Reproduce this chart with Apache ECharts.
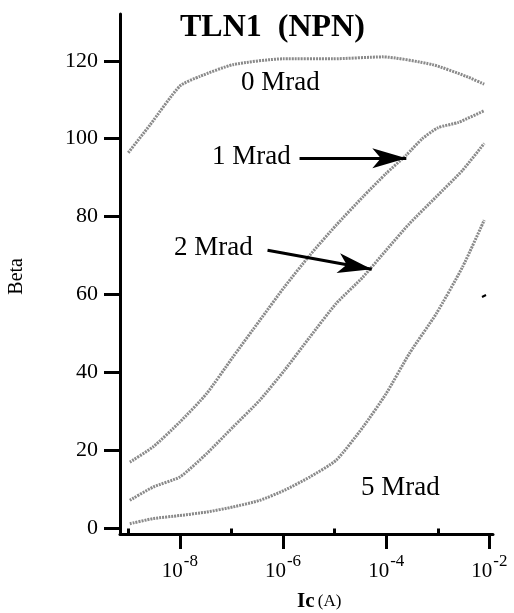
<!DOCTYPE html>
<html>
<head>
<meta charset="UTF-8">
<title>TLN1 (NPN) Beta vs Ic</title>
<script src="https://cdn.jsdelivr.net/npm/echarts@6/dist/echarts.min.js"></script>
<style>
  body { margin: 0; background: #fff; }
  #main { width: 514px; height: 613px; }
</style>
</head>
<body>
<div id="main"></div>
<script type="text/javascript">
// x values are log10(Ic / A)
var logIc0 = [-9.0, -8.58, -8.0, -7.61, -6.97, -6.0, -5.04, -4.07, -3.1, -2.45, -2.1];
var beta0  = [96.4, 103.5, 113.5, 116, 119, 120.5, 120.5, 121, 119, 116, 114];

var logIc1 = [-8.97, -8.52, -8.0, -7.48, -6.97, -6.45, -5.97, -5.48, -4.97, -4.45, -4.0, -3.61, -3.3, -3.0, -2.6, -2.1];
var beta1  = [17.0, 20.9, 27.3, 34.6, 44.0, 53.4, 62.0, 70.1, 77.8, 85.1, 91.1, 95.8, 100.0, 102.8, 104.2, 107.2];

var logIc2 = [-8.97, -8.52, -8.0, -7.48, -6.97, -6.45, -5.97, -5.48, -4.97, -4.45, -4.0, -3.55, -3.03, -2.52, -2.1];
var beta2  = [7.2, 10.6, 13.2, 19.2, 26.0, 32.9, 40.6, 49.1, 57.7, 64.5, 71.4, 78.2, 85.1, 91.9, 98.8];

var logIc5 = [-8.97, -8.52, -8.0, -7.48, -6.97, -6.45, -5.97, -5.48, -4.97, -4.45, -4.0, -3.55, -3.03, -2.52, -2.1];
var beta5  = [1.2, 2.5, 3.3, 4.2, 5.5, 7.2, 9.8, 13.2, 17.5, 26.0, 34.6, 44.9, 55.1, 67.1, 79.1];

var yTicks = [0, 20, 40, 60, 80, 100, 120];
var xMajor = [-8, -6, -4, -2];
var xMinor = [-9, -7, -5, -3];

// arrows from the labels to the curves, in data coords
var arrow1 = [[-5.68, 95], [-3.61, 95]];
var arrow2 = [[-6.30, 71.4], [-4.28, 66.5]];

var serif = '"Liberation Serif", "DejaVu Serif", serif';

function pairs(xs, ys) {
  var out = [];
  for (var i = 0; i < xs.length; i++) out.push([xs[i], ys[i]]);
  return out;
}

function curve(name, xs, ys) {
  return {
    name: name,
    type: 'line',
    data: pairs(xs, ys),
    symbol: 'none',
    smooth: 0.2,
    lineStyle: { color: '#8a8a8a', width: 3, type: [2, 1] },
    silent: true
  };
}

var myChart = echarts.init(document.getElementById('main'));

var series = [
  curve('0 Mrad', logIc0, beta0),
  curve('1 Mrad', logIc1, beta1),
  curve('2 Mrad', logIc2, beta2),
  curve('5 Mrad', logIc5, beta5)
];

// arrows drawn as markLines on the first series
series[0].markLine = {
  silent: true,
  symbol: ['none', 'arrow'],
  symbolSize: [15, 34],
  label: { show: false },
  lineStyle: { color: '#000', width: 3, type: 'solid' },
  data: [
    [{ coord: arrow1[0] }, { coord: arrow1[1] }],
    [{ coord: arrow2[0] }, { coord: arrow2[1] }]
  ]
};

var option = {
  animation: false,
  backgroundColor: '#fff',
  title: {
    text: 'TLN1  (NPN)',
    left: 175,
    top: 7,
    textStyle: { fontFamily: serif, fontWeight: 'bold', fontSize: 32, color: '#000' }
  },
  grid: { left: 120, right: 21, top: 14, bottom: 79 },
  xAxis: [
    {
      type: 'value',
      min: -9.16,
      max: -1.93,
      axisLine: { onZero: false, lineStyle: { color: '#000', width: 3 } },
      axisTick: { customValues: xMajor, length: 15, lineStyle: { width: 3, color: '#000' } },
      splitLine: { show: false },
      axisLabel: {
        customValues: xMajor,
        margin: 15,
        formatter: function (v) { return '{b|10}{s|' + v + '}'; },
        rich: {
          b: { fontFamily: serif, fontSize: 21, color: '#000', padding: [12, 0, 0, 0] },
          s: { fontFamily: serif, fontSize: 17, color: '#000', padding: [0, 0, 8, 1] }
        }
      }
    },
    {
      type: 'value',
      min: -9.16,
      max: -1.93,
      position: 'bottom',
      axisLine: { show: false },
      axisTick: { customValues: xMinor, length: 6, lineStyle: { width: 3, color: '#000' } },
      axisLabel: { show: false },
      splitLine: { show: false }
    }
  ],
  yAxis: {
    type: 'value',
    min: -1.44,
    max: 132,
    axisLine: { onZero: false, lineStyle: { color: '#000', width: 3 } },
    axisTick: { customValues: yTicks, length: 16, lineStyle: { width: 3, color: '#000' } },
    splitLine: { show: false },
    axisLabel: {
      customValues: yTicks,
      margin: 22,
      fontFamily: serif,
      fontSize: 22,
      color: '#000'
    }
  },
  graphic: [
    { type: 'text', left: 241, top: 69, style: { text: '0 Mrad', font: '27px ' + serif, fill: '#000' } },
    { type: 'text', left: 212, top: 143, style: { text: '1 Mrad', font: '27px ' + serif, fill: '#000' } },
    { type: 'text', left: 174, top: 234, style: { text: '2 Mrad', font: '27px ' + serif, fill: '#000' } },
    { type: 'text', left: 361, top: 474, style: { text: '5 Mrad', font: '27px ' + serif, fill: '#000' } },
    {
      type: 'text', left: 7, top: 258, rotation: Math.PI / 2,
      style: { text: 'Beta', font: '20px ' + serif, fill: '#000' }
    },
    {
      type: 'text', left: 297, top: 591,
      style: {
        text: '{a|Ic} {b|(A)}',
        rich: {
          a: { fontFamily: serif, fontWeight: 'bold', fontSize: 21, fill: '#000' },
          b: { fontFamily: serif, fontSize: 17, fill: '#000' }
        }
      }
    },
    // small stray mark on the original page
    { type: 'line', shape: { x1: 482, y1: 297, x2: 486, y2: 295 }, style: { stroke: '#000', lineWidth: 2 } }
  ],
  series: series
};

myChart.setOption(option);
</script>
</body>
</html>
